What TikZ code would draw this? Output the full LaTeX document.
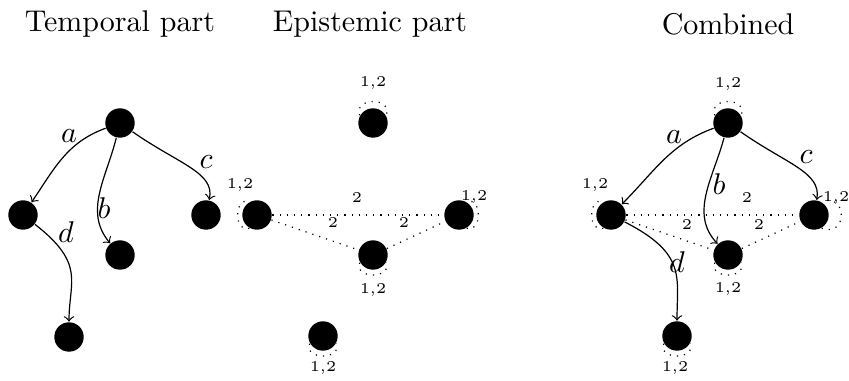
\documentclass[tikz,border=0pt]{standalone}
\begin{document}
\begin{tikzpicture}[x=0.3333pt,y=0.3333pt,
  state/.style={circle,fill=black,inner sep=0pt,minimum size=9.8pt},
  ttl/.style={font=\normalsize,inner sep=0pt},
  tlbl/.style={font=\tiny,inner sep=0pt},
  elbl/.style={inner sep=0pt},
  trans/.style={->},
  epi/.style={dotted},
  eloop/.style={dotted}]
\useasboundingbox (0,0) rectangle (849,381);

% titles
\node[ttl] (t1) at (120,357) {Temporal part};
\node[ttl] (t2) at (370,357) {Epistemic part};
\node[ttl] (t3) at (728,357) {Combined};

% ---------------- temporal part
\node[state] (tr) at (120,258) {};
\node[state] (tl) at (23,166) {};
\node[state] (tb) at (120,126) {};
\node[state] (tc) at (206,166) {};
\node[state] (td) at (69,44) {};

\draw[trans] (tr) to[out=200,in=56] (tl);
\draw[trans] (tr) to[out=-104,in=130] (tb);
\draw[trans] (tr) to[out=-35,in=78,out looseness=1.4,in looseness=0.7] (tc);
\draw[trans] (tl) to[out=-38,in=90,out looseness=1.6] (td);

\node[elbl] (la1) at (69,245) {$a$};
\node[elbl] (lb1) at (104,173) {$b$};
\node[elbl] (lc1) at (206,219) {$c$};
\node[elbl] (ld1) at (66,149) {$d$};

% ---------------- epistemic part
\node[state] (et) at (373,258) {};
\node[state] (el) at (257,166) {};
\node[state] (er) at (459,166) {};
\node[state] (em) at (373,126) {};
\node[state] (eb) at (323,45) {};

\draw[epi] (el) -- (er);
\draw[epi] (el) -- (em);
\draw[epi] (em) -- (er);
\node[tlbl] (e2a) at (357,183) {2};
\node[tlbl] (e2b) at (333,158) {2};
\node[tlbl] (e2c) at (404,158) {2};

\draw[eloop] (et.150) to[out=110,in=70,looseness=1.9] (et.30);
\draw[eloop] (el.240) to[out=200,in=160,looseness=1.6] (el.120);
\draw[eloop] (er.-60) to[out=-20,in=20,looseness=1.6] (er.60);
\draw[eloop] (em.210) to[out=250,in=290,looseness=1.7] (em.330);
\draw[eloop] (eb.210) to[out=250,in=290,looseness=1.7] (eb.330);

\node[tlbl] (e12a) at (373,298) {1,2};
\node[tlbl] (e12b) at (240,196) {1,2};
\node[tlbl] (e12c) at (474,184) {1,2};
\node[tlbl] (e12d) at (373,91) {1,2};
\node[tlbl] (e12e) at (323,13) {1,2};

% ---------------- combined
\node[state] (ct) at (728,258) {};
\node[state] (cl) at (611,166) {};
\node[state] (cr) at (814,166) {};
\node[state] (cm) at (728,126) {};
\node[state] (cd) at (677,45) {};

\draw[epi] (cl) -- (cr);
\draw[epi] (cl) -- (cm);
\draw[epi] (cm) -- (cr);
\node[tlbl] (c2a) at (747,183) {2};
\node[tlbl] (c2b) at (687,156) {2};
\node[tlbl] (c2c) at (759,156) {2};

\draw[trans] (ct) to[out=200,in=45] (cl);
\draw[trans] (ct) to[out=-105,in=133] (cm);
\draw[trans] (ct) to[out=-35,in=80,out looseness=1.4,in looseness=0.7] (cr);
\draw[trans] (cl) to[out=-27,in=90,out looseness=1.6] (cd);

\node[elbl] (la2) at (674,244) {$a$};
\node[elbl] (lb2) at (719,197) {$b$};
\node[elbl] (lc2) at (806,224) {$c$};
\node[elbl] (ld2) at (677,119) {$d$};

\draw[eloop] (ct.150) to[out=110,in=70,looseness=1.9] (ct.30);
\draw[eloop] (cl.240) to[out=200,in=160,looseness=1.6] (cl.120);
\draw[eloop] (cr.-60) to[out=-20,in=20,looseness=2.7] (cr.60);
\draw[eloop] (cm.210) to[out=250,in=290,looseness=1.7] (cm.330);
\draw[eloop] (cd.210) to[out=250,in=290,looseness=1.7] (cd.330);

\node[tlbl] (c12a) at (728,297) {1,2};
\node[tlbl] (c12b) at (595,196) {1,2};
\node[tlbl] (c12c) at (836,183) {1,2};
\node[tlbl] (c12d) at (728,92) {1,2};
\node[tlbl] (c12e) at (675,13) {1,2};
\end{tikzpicture}
\end{document}
